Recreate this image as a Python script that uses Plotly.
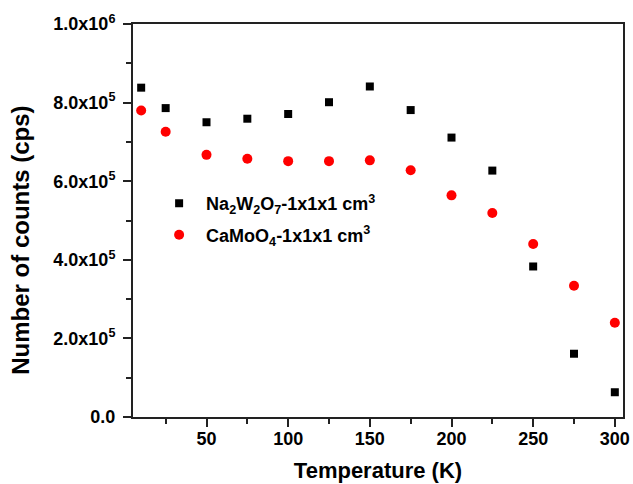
import plotly.graph_objects as go

temperature = [10, 25, 50, 75, 100, 125, 150, 175, 200, 225, 250, 275, 300]
na2w2o7 = [0.838e6, 0.786e6, 0.750e6, 0.759e6, 0.771e6, 0.801e6, 0.841e6,
           0.781e6, 0.711e6, 0.627e6, 0.383e6, 0.161e6, 0.063e6]
camoo4 = [0.780e6, 0.726e6, 0.667e6, 0.657e6, 0.651e6, 0.651e6, 0.653e6,
          0.628e6, 0.564e6, 0.519e6, 0.440e6, 0.334e6, 0.240e6]

ytick_vals = [0, 2e5, 4e5, 6e5, 8e5, 1e6]
ytick_text = ["0.0", "2.0x10<sup>5</sup>", "4.0x10<sup>5</sup>",
              "6.0x10<sup>5</sup>", "8.0x10<sup>5</sup>", "1.0x10<sup>6</sup>"]
xtick_vals = [50, 100, 150, 200, 250, 300]

FONT = "Liberation Sans, Arial, sans-serif"

fig = go.Figure()
fig.add_trace(go.Scatter(
    x=temperature, y=na2w2o7, mode="markers", legendgroup="a",
    name="Na<sub>2</sub>W<sub>2</sub>O<sub>7</sub>-1x1x1 cm<sup>3</sup>",
    marker=dict(symbol="square", size=8, color="black"),
))
fig.add_trace(go.Scatter(
    x=temperature, y=camoo4, mode="markers", legendgroup="b",
    name="CaMoO<sub>4</sub>-1x1x1 cm<sup>3</sup>",
    marker=dict(symbol="circle", size=10, color="#ff0000"),
))

axis_common = dict(
    showline=True, linecolor="#222", linewidth=2, mirror=True,
    showgrid=False, zeroline=False, ticks="outside", ticklen=8,
    tickwidth=1.5, tickcolor="#222", automargin=False,
    tickfont=dict(family=FONT, size=18, color="black", weight="bold"),
)

fig.update_xaxes(
    range=[5, 305], tickvals=xtick_vals,
    minor=dict(ticks="outside", ticklen=5, dtick=25, tick0=0, tickcolor="#222", tickwidth=1.5),
    ticklabelstandoff=-4,
    title=dict(text="Temperature (K)", standoff=15,
               font=dict(family=FONT, size=22, color="black", weight="bold")),
    **axis_common,
)
fig.update_yaxes(
    range=[0, 1e6], tickvals=ytick_vals, ticktext=ytick_text,
    minor=dict(ticks="outside", ticklen=5, dtick=1e5, tick0=0, tickcolor="#222", tickwidth=1.5),
    ticklabelstandoff=4,
    **axis_common,
)

fig.add_annotation(
    text="Number of counts (cps)", textangle=-90,
    xref="paper", yref="paper", x=-0.229, y=0.4504,
    xanchor="center", yanchor="middle", showarrow=False,
    font=dict(family=FONT, size=24, color="black", weight="bold"),
)

fig.update_layout(
    width=633, height=484,
    margin=dict(l=133, r=10, t=24, b=67),
    paper_bgcolor="white", plot_bgcolor="white",
    showlegend=True,
    legend=dict(
        x=0.039, y=0.59, xanchor="left", yanchor="top",
        bgcolor="rgba(0,0,0,0)", itemwidth=44,
        traceorder="grouped", tracegroupgap=5,
        font=dict(family=FONT, size=18, color="black", weight="bold"),
    ),
)

fig.write_html("out.html")
